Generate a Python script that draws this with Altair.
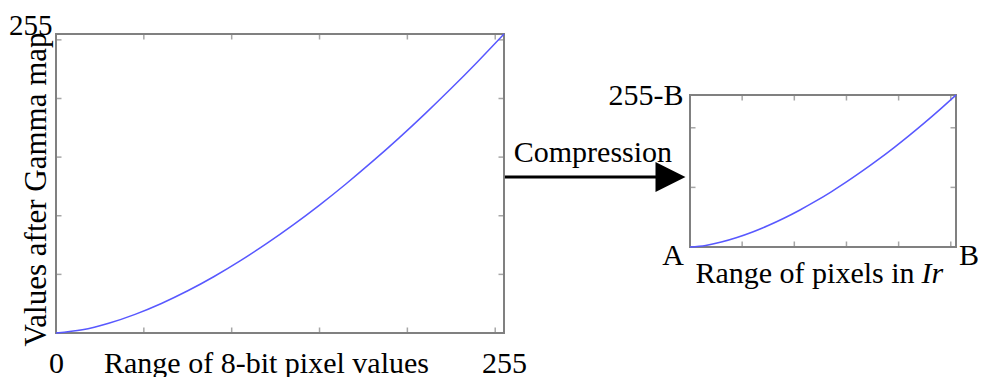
import altair as alt
import pandas as pd

# ---------------- data ----------------
# input pixel values (x) and mapped values (y) of the gamma curve
curve_x = [0, 15, 30, 45, 60, 75, 90, 105, 120, 135, 150, 165, 180, 195, 210, 225, 240, 255]
curve_y = [0, 2.7, 8.3, 15.9, 25.2, 36.0, 48.2, 61.7, 76.4, 92.2, 109.1, 127.1,
           146.1, 166.0, 186.9, 208.7, 231.4, 255]
# compressed curve (same shape drawn on its own A..B / A..255-B range)
comp_x = [0, 15, 30, 45, 60, 75, 90, 105, 120, 135, 150, 165, 180, 195, 210, 225, 240, 255]
comp_y = [0, 2.7, 8.3, 15.9, 25.2, 36.0, 48.2, 61.7, 76.4, 92.2, 109.1, 127.1,
          146.1, 166.0, 186.9, 208.7, 231.4, 255]

left_xticks = [50, 100, 150, 200, 250]
left_yticks = [50, 100, 150, 200, 250]
right_xticks = [50, 100, 150, 200, 250]
right_yticks = [100, 200]
left_xlabels = [0, 255]
left_ylabels = [255]
right_ylabels = [255]

left_xtitle = "Range of 8-bit pixel values"
left_ytitle = "Values after Gamma map"
right_ylabel_text = "255-B"
right_xtitle = "Range of pixels in"
right_xtitle_italic = "Ir"
corner_a = "A"
corner_b = "B"
arrow_text = "Compression"

# ---------------- styling ----------------
FONT = "Liberation Serif"
FS = 30
GREY = "#808080"
BLUE = "#5858ff"
DOM = [0, 255]
NOVIEW = alt.ViewBackground(stroke="transparent", strokeWidth=0, fill="transparent")


def sc():
    return alt.Scale(domain=DOM, nice=False, zero=False)


def hidden_axis():
    return alt.Axis(domain=False, ticks=False, labels=False, grid=False, title="")


LX = alt.Axis(
    values=left_xlabels, format="d", labelFont=FONT, labelFontSize=FS, labelColor="black",
    labelBaseline="alphabetic", labelPadding=39, labelFlush=False, labelOverlap=False,
    ticks=False, tickSize=0, domain=False, grid=False,
    title=left_xtitle, titleFont=FONT, titleFontSize=FS, titleFontWeight="normal", titleColor="black",
    titleX=210, titleY=39, titleBaseline="alphabetic", titleAlign="center",
)
LY = alt.Axis(
    values=left_ylabels, format="d", labelFont=FONT, labelFontSize=29, labelColor="black",
    labelBaseline="alphabetic", labelPadding=4, labelFlush=False, labelOverlap=False,
    ticks=False, tickSize=0, domain=False, grid=False,
    title=left_ytitle, titleFont=FONT, titleFontSize=31, titleFontWeight="normal", titleColor="black",
    titleX=-11, titleY=155, titleBaseline="alphabetic", titleAlign="center",
)
RX = hidden_axis()
RY = alt.Axis(
    values=right_ylabels, labelExpr=f"'{right_ylabel_text}'", labelFont=FONT, labelFontSize=FS,
    labelColor="black", labelBaseline="middle", labelPadding=7, labelFlush=False, labelOverlap=False,
    ticks=False, tickSize=0, domain=False, grid=False, title="",
)

curve_df = pd.DataFrame({"x": curve_x, "y": curve_y})
comp_df = pd.DataFrame({"x": comp_x, "y": comp_y})


def frame(ax, ay):
    return alt.Chart(pd.DataFrame({"x0": [DOM[0]], "x1": [DOM[1]], "y0": [DOM[0]], "y1": [DOM[1]]})).mark_rect(
        fillOpacity=0, stroke=GREY, strokeWidth=2
    ).encode(
        x=alt.X("x0:Q", scale=sc(), axis=ax),
        x2="x1:Q",
        y=alt.Y("y0:Q", scale=sc(), axis=ay),
        y2="y1:Q",
    )


def ticks(xt, yt, ax, ay):
    bx = pd.DataFrame({"v": xt, "lo": [DOM[0]] * len(xt), "hi": [DOM[1]] * len(xt)})
    by = pd.DataFrame({"v": yt, "lo": [DOM[0]] * len(yt), "hi": [DOM[1]] * len(yt)})
    layers = []
    for col in ["lo", "hi"]:
        layers.append(
            alt.Chart(bx).mark_tick(orient="vertical", size=11, thickness=1.5, color=GREY, clip=True).encode(
                x=alt.X("v:Q", scale=sc(), axis=ax),
                y=alt.Y(f"{col}:Q", scale=sc(), axis=ay),
            )
        )
        layers.append(
            alt.Chart(by).mark_tick(orient="horizontal", size=11, thickness=1.5, color=GREY, clip=True).encode(
                y=alt.Y("v:Q", scale=sc(), axis=ay),
                x=alt.X(f"{col}:Q", scale=sc(), axis=ax),
            )
        )
    return layers


# ---------------- left panel ----------------
left_line = alt.Chart(curve_df).mark_line(color=BLUE, strokeWidth=1.5, interpolate="monotone").encode(
    x=alt.X("x:Q", scale=sc(), axis=LX),
    y=alt.Y("y:Q", scale=sc(), axis=LY),
)

left = alt.layer(frame(LX, LY), *ticks(left_xticks, left_yticks, LX, LY), left_line).properties(
    width=448, height=299, view=NOVIEW
)

# ---------------- right panel ----------------
right_line = alt.Chart(comp_df).mark_line(color=BLUE, strokeWidth=1.5, interpolate="monotone").encode(
    x=alt.X("x:Q", scale=sc(), axis=RX),
    y=alt.Y("y:Q", scale=sc(), axis=RY),
)

txt = dict(font=FONT, fontSize=FS, color="black", baseline="alphabetic")


def corner_text(t, xv, **kw):
    return alt.Chart(pd.DataFrame({"t": [t]})).mark_text(**txt, **kw).encode(
        x=alt.XDatum(xv, scale=sc(), axis=RX),
        y=alt.YDatum(DOM[0], scale=sc(), axis=RY),
        text="t:N",
    )


lab_a = corner_text(corner_a, DOM[0], align="right", dx=-6, dy=18)
lab_b = corner_text(corner_b, DOM[1], align="left", dx=3, dy=18)
title_r1 = corner_text(right_xtitle, 222, align="right", dx=-7, dy=36)
title_r2 = corner_text(right_xtitle_italic, 222, align="left", dx=0, dy=36, fontStyle="italic")

right = alt.layer(
    frame(RX, RY), *ticks(right_xticks, right_yticks, RX, RY), right_line, lab_a, lab_b, title_r1, title_r2
).properties(width=266, height=152, view=NOVIEW)

# ---------------- middle: compression arrow ----------------
ms = alt.Scale(domain=[0, 10], nice=False, zero=False)
MX = hidden_axis()
MY = hidden_axis()
one = pd.DataFrame({"t": [arrow_text]})
shaft = alt.Chart(one).mark_rule(color="black", strokeWidth=3).encode(
    x=alt.XDatum(0.05, scale=ms, axis=MX),
    x2=alt.X2Datum(8.4),
    y=alt.YDatum(4.6, scale=ms, axis=MY),
)
head = alt.Chart(one).mark_point(
    shape="M-1,-1L1,0L-1,1Z", size=900, filled=True, color="black", opacity=1
).encode(
    x=alt.XDatum(8.95, scale=ms, axis=MX),
    y=alt.YDatum(4.6, scale=ms, axis=MY),
)
label = alt.Chart(one).mark_text(font=FONT, fontSize=FS, color="black", baseline="alphabetic", align="center").encode(
    x=alt.XDatum(4.78, scale=ms, axis=MX),
    y=alt.YDatum(5.59, scale=ms, axis=MY),
    text="t:N",
)
mid = alt.layer(shaft, head, label).properties(width=186, height=152, view=NOVIEW)

spacer = alt.Chart(pd.DataFrame({"a": [0]})).mark_point(opacity=0).properties(
    width=452, height=61, view=NOVIEW
)

right_col = alt.vconcat(
    spacer, alt.hconcat(mid, right, spacing=0, bounds="flush"), spacing=0, bounds="flush"
)

# fixed-size canvas (no auto padding) so that the drawing is not shrunk to fit the page
chart = alt.hconcat(left, right_col, spacing=0, bounds="flush").properties(
    autosize=alt.AutoSizeParams(type="none"),
    padding={"left": 48, "top": 26, "right": 922, "bottom": 349},
).configure_view(stroke="transparent", strokeWidth=0).configure(background="white")

chart.save("out.html", embed_options={"renderer": "svg", "actions": False})
